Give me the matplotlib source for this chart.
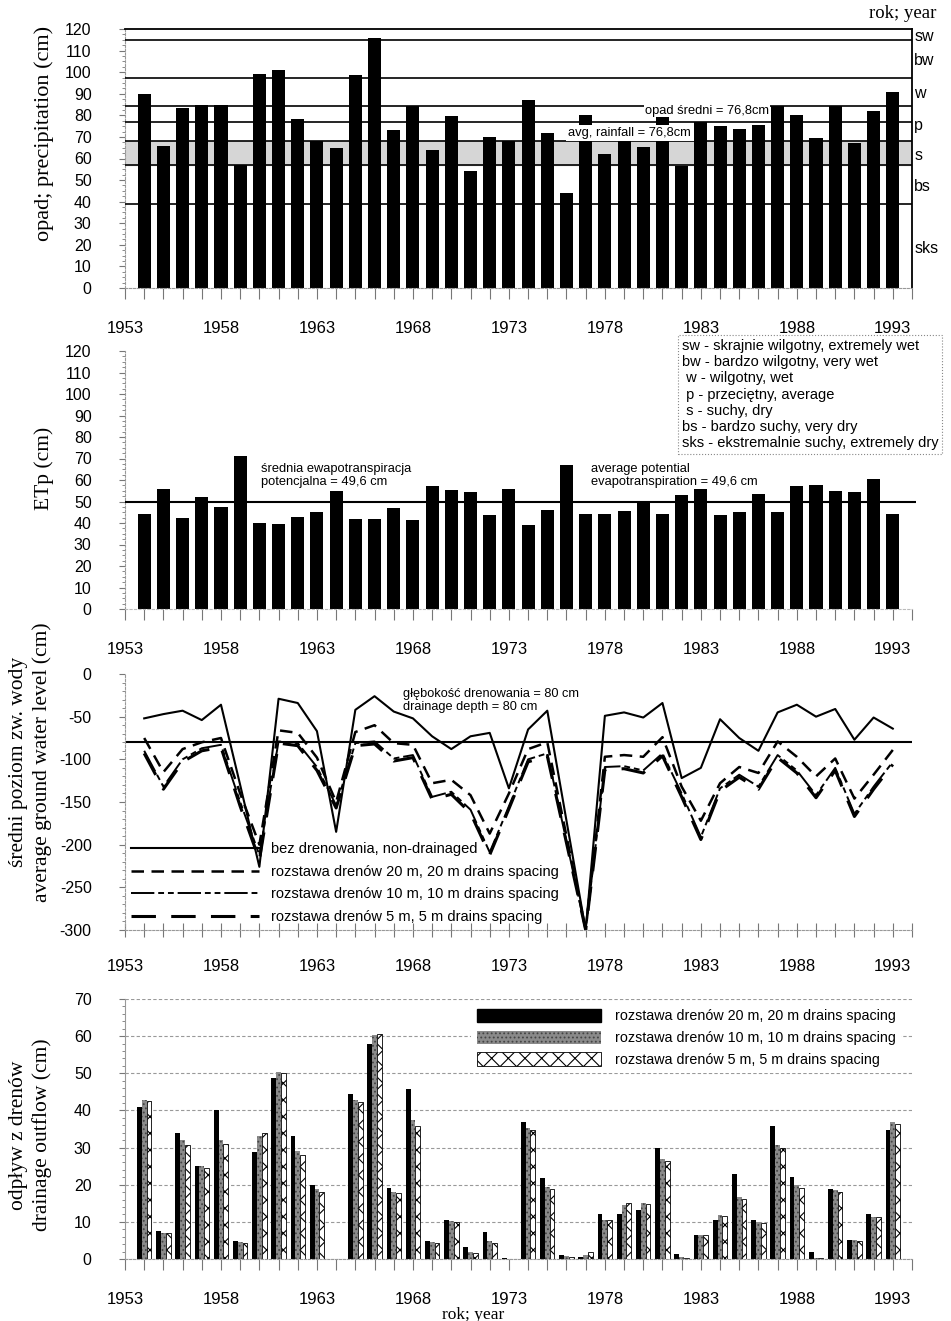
import numpy as np
import matplotlib
matplotlib.use("Agg")
import matplotlib.pyplot as plt
from matplotlib.lines import Line2D
from matplotlib.patches import Patch
from matplotlib.transforms import blended_transform_factory

plt.rcParams['font.family'] = ['Liberation Sans', 'DejaVu Sans']
plt.rcParams['hatch.linewidth'] = 0.8
plt.rcParams['axes.unicode_minus'] = False

# ---- data ----
years = np.arange(1954, 1994)

precip = [90, 66, 83.5, 85, 85, 57, 99, 101, 78.5, 68,
          65, 98.5, 116, 73, 84.5, 64, 79.5, 54, 70, 68,
          87, 72, 44, 80, 62, 69, 65.5, 80, 56.5, 77,
          75, 73.5, 75.5, 84.5, 80, 69.5, 84.5, 67, 82, 91]
precip_mean = 76.8
class_bounds = [120, 115, 97.5, 84.5, 68, 57, 39, 0]
class_names = ['sw', 'bw', 'w', 'p', 's', 'bs', 'sks']

etp = [44, 56, 42.5, 52, 47.5, 71, 40, 39.5, 43, 45,
       55, 42, 42, 47, 41.5, 57, 55.5, 54.5, 43.5, 56,
       39, 46, 67, 44, 44, 45.5, 50, 44, 53, 56,
       43.5, 45, 53.5, 45, 57, 57.5, 55, 54.5, 60.5, 44]
etp_mean = 49.6

gw_none = [-52, -47, -43, -54, -36, -130, -226, -29, -34, -67,
           -185, -42, -26, -44, -52, -73, -88, -73, -69, -134,
           -65, -43, -172, -300, -49, -45, -51, -34, -122, -110,
           -53, -75, -90, -45, -36, -50, -41, -77, -51, -64]
gw_20 = [-75, -115, -88, -80, -75, -140, -200, -66, -69, -98,
         -150, -68, -60, -81, -83, -128, -124, -142, -187, -140,
         -88, -80, -190, -300, -97, -95, -97, -74, -132, -172,
         -128, -109, -116, -79, -97, -120, -99, -146, -118, -89]
gw_10 = [-90, -132, -100, -87, -83, -150, -212, -79, -81, -109,
         -154, -81, -79, -99, -95, -144, -138, -159, -209, -155,
         -100, -93, -196, -300, -109, -108, -113, -93, -140, -191,
         -134, -118, -132, -95, -113, -142, -110, -164, -132, -103]
gw_5 = [-93, -135, -103, -90, -86, -155, -218, -81, -84, -113,
        -157, -84, -82, -102, -98, -147, -141, -163, -212, -158,
        -103, -96, -198, -300, -112, -111, -116, -96, -144, -194,
        -137, -121, -135, -98, -116, -145, -113, -167, -135, -106]
drain_depth = -80

out_20 = [40.8, 7.5, 33.9, 25, 40, 4.8, 28.7, 48.7, 33, 19.9,
          0, 44.3, 58, 19, 45.7, 4.8, 10.5, 3.3, 7.2, 0.3,
          37, 21.8, 1.1, 0.6, 12.2, 12.2, 13.1, 29.9, 1.25, 6.4,
          10.4, 23, 10.4, 35.9, 22.2, 2, 18.75, 5.1, 12.2, 34.8]
out_10 = [42.8, 6.9, 32, 25, 32, 4.7, 33, 50.4, 29, 18.9,
          0, 42.8, 60.3, 18.1, 37.4, 4.5, 10.2, 2, 4.8, 0,
          35.4, 19.4, 0.8, 1.1, 10.4, 14.5, 15.2, 27, 0.5, 6.4,
          11.8, 16.7, 10, 30.7, 19.8, 0.4, 18.5, 5.1, 11.3, 36.8]
out_5 = [42.5, 6.9, 30.7, 24.6, 30.9, 4.2, 33.8, 50, 28, 18.1,
         0, 42.4, 60.6, 17.7, 35.8, 4.2, 10, 1.7, 4.2, 0,
         34.8, 18.9, 0.6, 2, 10.4, 15.2, 14.9, 26.3, 0.4, 6.4,
         11.6, 16.1, 9.8, 29.8, 19.1, 0.4, 18, 4.8, 11.3, 36.3]

legend_classes = ("sw - skrajnie wilgotny, extremely wet\n"
                  "bw - bardzo wilgotny, very wet\n"
                  " w - wilgotny, wet\n"
                  " p - przeciętny, average\n"
                  " s - suchy, dry\n"
                  "bs - bardzo suchy, very dry\n"
                  "sks - ekstremalnie suchy, extremely dry")

# ---- figure ----
W, H = 951, 1321
fig = plt.figure(figsize=(W / 100, H / 100), dpi=100)
SERIF = ['Liberation Serif', 'DejaVu Serif']
GREY = '#777777'


def px_axes(x0, y0, x1, y1):
    return fig.add_axes([x0 / W, 1 - y1 / H, (x1 - x0) / W, (y1 - y0) / H])


def year_axis(ax):
    ax.set_xlim(1953, 1994)
    ax.set_xticks(np.arange(1953, 1994, 5))
    ax.set_xticks(np.arange(1953, 1995), minor=True)
    ax.tick_params(axis='x', which='both', length=8, width=0.8, color=GREY,
                   pad=16, labelsize=12)


def left_axis(ax, dotted=True):
    ax.tick_params(axis='y', which='major', length=4, width=0.8, color=GREY,
                   pad=20, labelsize=11.5)
    ax.tick_params(axis='y', which='minor', length=2.5, width=0.6, color=GREY)
    ax.spines['left'].set_color('#999999')
    ax.spines['left'].set_linewidth(0.8)
    if dotted:
        ax.spines['left'].set_linestyle((0, (2, 1.5)))


# ---- panel 1: precipitation ----
ax1 = px_axes(125, 29, 912, 288)
ax1.axhspan(class_bounds[5], class_bounds[4], color='#d6d6d6', zorder=0)
ax1.bar(years, precip, width=0.68, color='black', zorder=2)
for b in class_bounds[1:-1]:
    ax1.axhline(b, color='black', lw=1.2, zorder=3)
ax1.axhline(precip_mean, color='black', lw=1.2, zorder=3)
ax1.set_ylim(0, 120)
ax1.set_yticks(np.arange(0, 121, 10))
ax1.set_yticks(np.arange(0, 121, 2.5), minor=True)
year_axis(ax1)
left_axis(ax1)
for s in ['top', 'right']:
    ax1.spines[s].set_linewidth(1.3)
ax1.spines['bottom'].set_color('#999999')
ax1.spines['bottom'].set_linestyle((0, (2, 1.5)))
tr = blended_transform_factory(ax1.transAxes, ax1.transData)
for i, name in enumerate(class_names):
    mid = (class_bounds[i] + class_bounds[i + 1]) / 2 - 1
    ax1.text(1.003, mid, name, transform=tr, ha='left', va='center', fontsize=11.5)
ax1.text(1980.1, 82.2, f"opad średni = {precip_mean:.1f}cm".replace('.', ','),
         fontsize=9.3, va='center', zorder=5,
         bbox=dict(facecolor='white', edgecolor='none', pad=0.6))
ax1.text(1976.1, 71.8, f"avg. rainfall = {precip_mean:.1f}cm".replace('.', ','),
         fontsize=9.3, va='center', zorder=5,
         bbox=dict(facecolor='white', edgecolor='none', pad=1.8))

# ---- panel 2: potential evapotranspiration ----
ax2 = px_axes(125, 351, 912, 609)
ax2.bar(years, etp, width=0.68, color='black', zorder=2)
ax2.hlines(etp_mean, 1953, 1994.2, color='black', lw=1.5, zorder=3, clip_on=False)
ax2.set_ylim(0, 120)
ax2.set_yticks(np.arange(0, 121, 10))
ax2.set_yticks(np.arange(0, 121, 2.5), minor=True)
year_axis(ax2)
left_axis(ax2)
for s in ['top', 'right']:
    ax2.spines[s].set_visible(False)
ax2.spines['bottom'].set_color('#bbbbbb')
ax2.spines['bottom'].set_linestyle((0, (2, 2)))
ax2.text(1960.1, 62.3, "średnia ewapotranspiracja\npotencjalna = 49,6 cm",
         fontsize=9.3, va='center', linespacing=1.1)
ax2.text(1977.3, 62.3, "average potential\nevapotranspiration = 49,6 cm",
         fontsize=9.3, va='center', linespacing=1.1)
fig.text(682 / W, 1 - 339 / H, legend_classes, fontsize=10.5, va='top', ha='left',
         linespacing=1.2,
         bbox=dict(boxstyle='square,pad=0.25', facecolor='white',
                   edgecolor='#888888', linestyle=':', lw=0.8))

# ---- panel 3: ground water level ----
ax3 = px_axes(125, 674, 912, 930)
ax3.axhline(drain_depth, color='black', lw=1.5, zorder=1)
st_none = dict(color='black', lw=1.5, ls='-')
st_20 = dict(color='black', lw=1.8, ls=(0, (5, 3)))
st_10 = dict(color='black', lw=1.4, ls=(0, (12, 2, 3, 2, 3, 2)))
st_5 = dict(color='black', lw=2.2, ls=(0, (8, 5)))
ax3.plot(years, gw_none, **st_none)
ax3.plot(years, gw_20, **st_20)
ax3.plot(years, gw_10, **st_10)
ax3.plot(years, gw_5, **st_5)
ax3.set_ylim(-300, 0)
ax3.set_yticks(np.arange(-300, 1, 50))
ax3.set_yticks(np.arange(-300, 1, 10), minor=True)
year_axis(ax3)
ax3.tick_params(axis='x', which='both', direction='inout', length=10)
left_axis(ax3)
for s in ['top', 'right']:
    ax3.spines[s].set_visible(False)
ax3.spines['bottom'].set_color('#999999')
ax3.spines['bottom'].set_linestyle((0, (2, 1.5)))
ax3.text(1967.5, -31.5, "głębokość drenowania = 80 cm\ndrainage depth = 80 cm",
         fontsize=9.2, va='center', linespacing=1.1)
handles3 = [Line2D([], [], **st_none), Line2D([], [], **st_20),
            Line2D([], [], **st_10), Line2D([], [], **st_5)]
labels3 = ["bez drenowania, non-drainaged",
           "rozstawa drenów 20 m, 20 m drains spacing",
           "rozstawa drenów 10 m, 10 m drains spacing",
           "rozstawa drenów 5 m, 5 m drains spacing"]
ax3.legend(handles3, labels3, loc='lower left', bbox_to_anchor=(0.0, 0.0),
           frameon=False, fontsize=10.5, handlelength=8.8, handletextpad=0.8,
           labelspacing=0.6, borderpad=0.2, borderaxespad=0.2)

# ---- panel 4: drainage outflow ----
ax4 = px_axes(125, 999, 912, 1259)
ax4.set_axisbelow(True)
ax4.grid(axis='y', color='#999999', ls=(0, (3, 2)), lw=0.8)
bw = 0.25
sty_20 = dict(color='black')
sty_10 = dict(facecolor='#8a8a8a', edgecolor='#444444', hatch='....', lw=0)
sty_5 = dict(facecolor='white', edgecolor='black', hatch='xx', lw=0.6)
ax4.bar(years - bw, out_20, width=bw, **sty_20)
ax4.bar(years, out_10, width=bw, **sty_10)
ax4.bar(years + bw, out_5, width=bw, **sty_5)
ax4.set_ylim(0, 70)
ax4.set_yticks(np.arange(0, 71, 10))
ax4.set_yticks(np.arange(0, 71, 2), minor=True)
year_axis(ax4)
left_axis(ax4, dotted=False)
for s in ['top', 'right']:
    ax4.spines[s].set_visible(False)
ax4.spines['bottom'].set_color('#999999')
ax4.spines['bottom'].set_linestyle((0, (2, 1.5)))
handles4 = [Patch(**sty_20), Patch(**sty_10), Patch(**sty_5)]
labels4 = ["rozstawa drenów 20 m, 20 m drains spacing",
           "rozstawa drenów 10 m, 10 m drains spacing",
           "rozstawa drenów 5 m, 5 m drains spacing"]
leg4 = ax4.legend(handles4, labels4, loc='upper left',
                  bbox_to_anchor=((471 - 125) / 787, 0.985),
                  fontsize=10.3, handlelength=8.7, handleheight=1.1,
                  handletextpad=0.95, labelspacing=0.5, borderpad=0.4,
                  borderaxespad=0.0, frameon=True, fancybox=False, framealpha=1)
leg4.get_frame().set_edgecolor('none')

# ---- axis titles ----
fig.text(44 / W, 1 - 133 / H, "opad; precipitation (cm)", rotation=90,
         ha='center', va='center', family=SERIF, fontsize=16)
fig.text(44 / W, 1 - 468 / H, "ETp (cm)", rotation=90,
         ha='center', va='center', family=SERIF, fontsize=15.5)
fig.text(19 / W, 1 - 762 / H, "średni poziom zw. wody", rotation=90,
         ha='center', va='center', family=SERIF, fontsize=15.5)
fig.text(42 / W, 1 - 762 / H, "average ground water level (cm)", rotation=90,
         ha='center', va='center', family=SERIF, fontsize=15.5)
fig.text(19 / W, 1 - 1135 / H, "odpływ z drenów", rotation=90,
         ha='center', va='center', family=SERIF, fontsize=15.5)
fig.text(42 / W, 1 - 1135 / H, "drainage outflow (cm)", rotation=90,
         ha='center', va='center', family=SERIF, fontsize=15.5)
fig.text(903 / W, 1 - 14 / H, "rok; year", ha='center', va='center',
         family=SERIF, fontsize=13.5)
fig.text(473 / W, 1 - 1315 / H, "rok; year", ha='center', va='center',
         family=SERIF, fontsize=12.5)

fig.savefig("out.png", dpi=100)
plt.close(fig)
